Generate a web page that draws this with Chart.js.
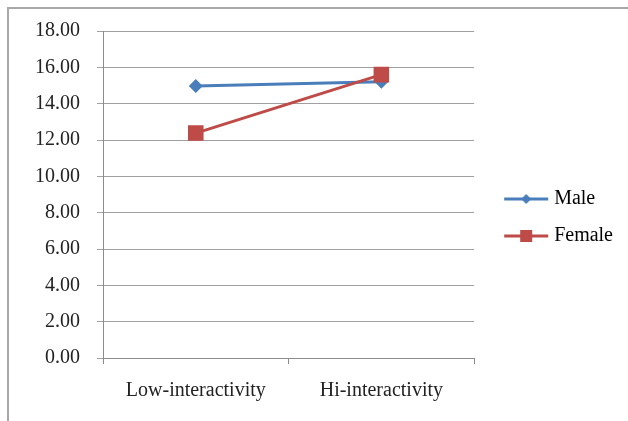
<!DOCTYPE html>
<html>
<head>
<meta charset="utf-8">
<script src="https://cdn.jsdelivr.net/npm/chart.js@4/dist/chart.umd.min.js"></script>
<style>
    html, body { margin: 0; padding: 0; background: #fff; }
    #wrap { position: relative; width: 628px; height: 421px; overflow: hidden; }
    #frame { position: absolute; left: 7px; top: 7px; width: 700px; height: 500px;
             border-left: 2px solid #a8a8a8; border-top: 2px solid #a8a8a8; }
    #box { position: absolute; left: 0; top: 0; width: 628px; height: 421px; }
</style>
</head>
<body>
<div id="wrap">
    <div id="frame"></div>
    <div id="box"><canvas id="interactChart"></canvas></div>
</div>
<script>
const categories = ['Low-interactivity', 'Hi-interactivity'];
const maleValues = [14.97, 15.2];
const femaleValues = [12.38, 15.6];
const yTicks = [0, 2, 4, 6, 8, 10, 12, 14, 16, 18];

const blue = '#4A7EBB';
const red = '#BE4B48';
const serif = 'Liberation Serif';

// little line + marker pictures for the legend
function legendIcon(color, shape) {
    const c = document.createElement('canvas');
    c.width = 50;
    c.height = 16;
    const g = c.getContext('2d');
    g.strokeStyle = color;
    g.lineWidth = 3;
    g.beginPath();
    g.moveTo(3, 8);
    g.lineTo(47, 8);
    g.stroke();
    g.fillStyle = color;
    g.beginPath();
    if (shape === 'diamond') {
        g.moveTo(25, 3); g.lineTo(30, 8); g.lineTo(25, 13); g.lineTo(20, 8);
        g.closePath();
    } else {
        g.rect(19, 2, 12, 12);
    }
    g.fill();
    return c;
}

const ctx = document.getElementById('interactChart').getContext('2d');

const chart = new Chart(ctx, {
    type: 'line',
    data: {
        labels: categories,
        datasets: [{
            label: 'Male',
            data: maleValues,
            borderColor: blue,
            backgroundColor: blue,
            borderWidth: 3,
            pointStyle: 'rectRot',
            pointRadius: 7,
            pointBorderWidth: 0,
            order: 1
        }, {
            label: 'Female',
            data: femaleValues,
            borderColor: red,
            backgroundColor: red,
            borderWidth: 3,
            pointStyle: 'rect',
            pointRadius: 11,
            pointBorderWidth: 0,
            order: 0
        }]
    },
    options: {
        responsive: true,
        maintainAspectRatio: false,
        animation: false,
        layout: {
            padding: { left: 18, top: 31, right: 5, bottom: 3 }
        },
        scales: {
            x: {
                offset: true,
                grid: {
                    offset: true,
                    drawOnChartArea: false,
                    color: '#8c8c8c',
                    tickLength: 6
                },
                border: { color: '#8c8c8c', width: 1 },
                ticks: {
                    color: '#222',
                    padding: 15,
                    font: { family: serif, size: 20 }
                }
            },
            y: {
                min: 0,
                max: 18,
                afterBuildTicks: function (axis) {
                    axis.ticks = yTicks.map(v => ({ value: v }));
                },
                grid: {
                    color: '#a0a0a0',
                    tickLength: 6
                },
                border: { color: '#8c8c8c', width: 1 },
                ticks: {
                    color: '#222',
                    padding: 17,
                    font: { family: serif, size: 20 },
                    callback: function (value) {
                        return Number(value).toFixed(2);
                    }
                }
            }
        },
        plugins: {
            tooltip: { enabled: false },
            legend: {
                position: 'right',
                labels: {
                    usePointStyle: true,
                    pointStyleWidth: 36,
                    padding: 17,
                    color: '#222',
                    font: { family: serif, size: 20 },
                    sort: (a, b) => a.datasetIndex - b.datasetIndex,
                    generateLabels: function (chart) {
                        return chart.data.datasets.map((ds, i) => ({
                            text: ds.label,
                            datasetIndex: i,
                            fillStyle: ds.borderColor,
                            strokeStyle: ds.borderColor,
                            lineWidth: 0,
                            hidden: false,
                            pointStyle: legendIcon(ds.borderColor, i === 0 ? 'diamond' : 'square')
                        }));
                    }
                }
            }
        }
    }
});

// give the legend a wider gap from the plot, and nudge its items
const legend = chart.legend;
const fitLegend = legend.fit;
legend.fit = function () {
    fitLegend.call(this);
    this.width += 17;
};
const drawLegend = legend.draw;
legend.draw = function () {
    this.left += 17;
    this.top -= 7;
    this.bottom -= 7;
    drawLegend.call(this);
    this.left -= 17;
    this.top += 7;
    this.bottom += 7;
};
chart.update();
</script>
</body>
</html>
